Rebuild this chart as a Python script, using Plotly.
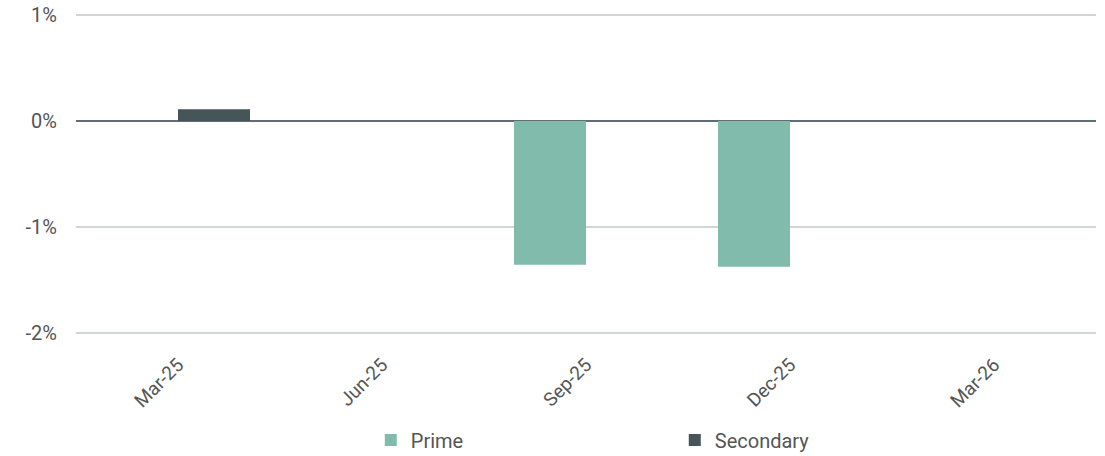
import plotly.graph_objects as go

categories = ["Mar-25", "Jun-25", "Sep-25", "Dec-25", "Mar-26"]
prime = [0.0, 0.0, -1.355, -1.375, 0.0]
secondary = [0.11, 0.0, 0.0, 0.0, 0.0]
y_tickvals = [-2, -1, 0, 1]
y_ticktext = ["-2%", "-1%", "0%", "1%"]

fig = go.Figure()
fig.add_trace(go.Bar(x=categories, y=prime, name="Prime", marker_color="#80BBAB",
                     marker_line_width=0))
fig.add_trace(go.Bar(x=categories, y=secondary, name="Secondary", marker_color="#455559",
                     marker_line_width=0))

font = "Roboto, sans-serif"
fig.update_layout(
    width=1105, height=456,
    margin=dict(l=76, r=9, t=14, b=122, autoexpand=False),
    paper_bgcolor="white", plot_bgcolor="white",
    barmode="group", bargap=0.294, bargroupgap=0,
    font=dict(family=font, size=20, color="#555555"),
    showlegend=True,
    legend=dict(orientation="h", x=0.289, xanchor="left", y=-0.27, yanchor="top",
                entrywidth=259, font=dict(size=20, color="#555555"),
                traceorder="normal"),
    xaxis=dict(tickangle=-45, showgrid=False, showline=False, ticks="",
               automargin=False, ticklabelstandoff=15,
               tickfont=dict(size=19, color="#555555")),
    yaxis=dict(range=[-2.0095, 1.0095], tickvals=y_tickvals, ticktext=y_ticktext,
               showgrid=True, gridcolor="#CFD5D8", gridwidth=2,
               zeroline=True, zerolinecolor="#5F6E70", zerolinewidth=2,
               showline=False, ticks="", automargin=False, ticklabelstandoff=18,
               tickfont=dict(size=20, color="#555555")),
)
fig.write_html("out.html")
